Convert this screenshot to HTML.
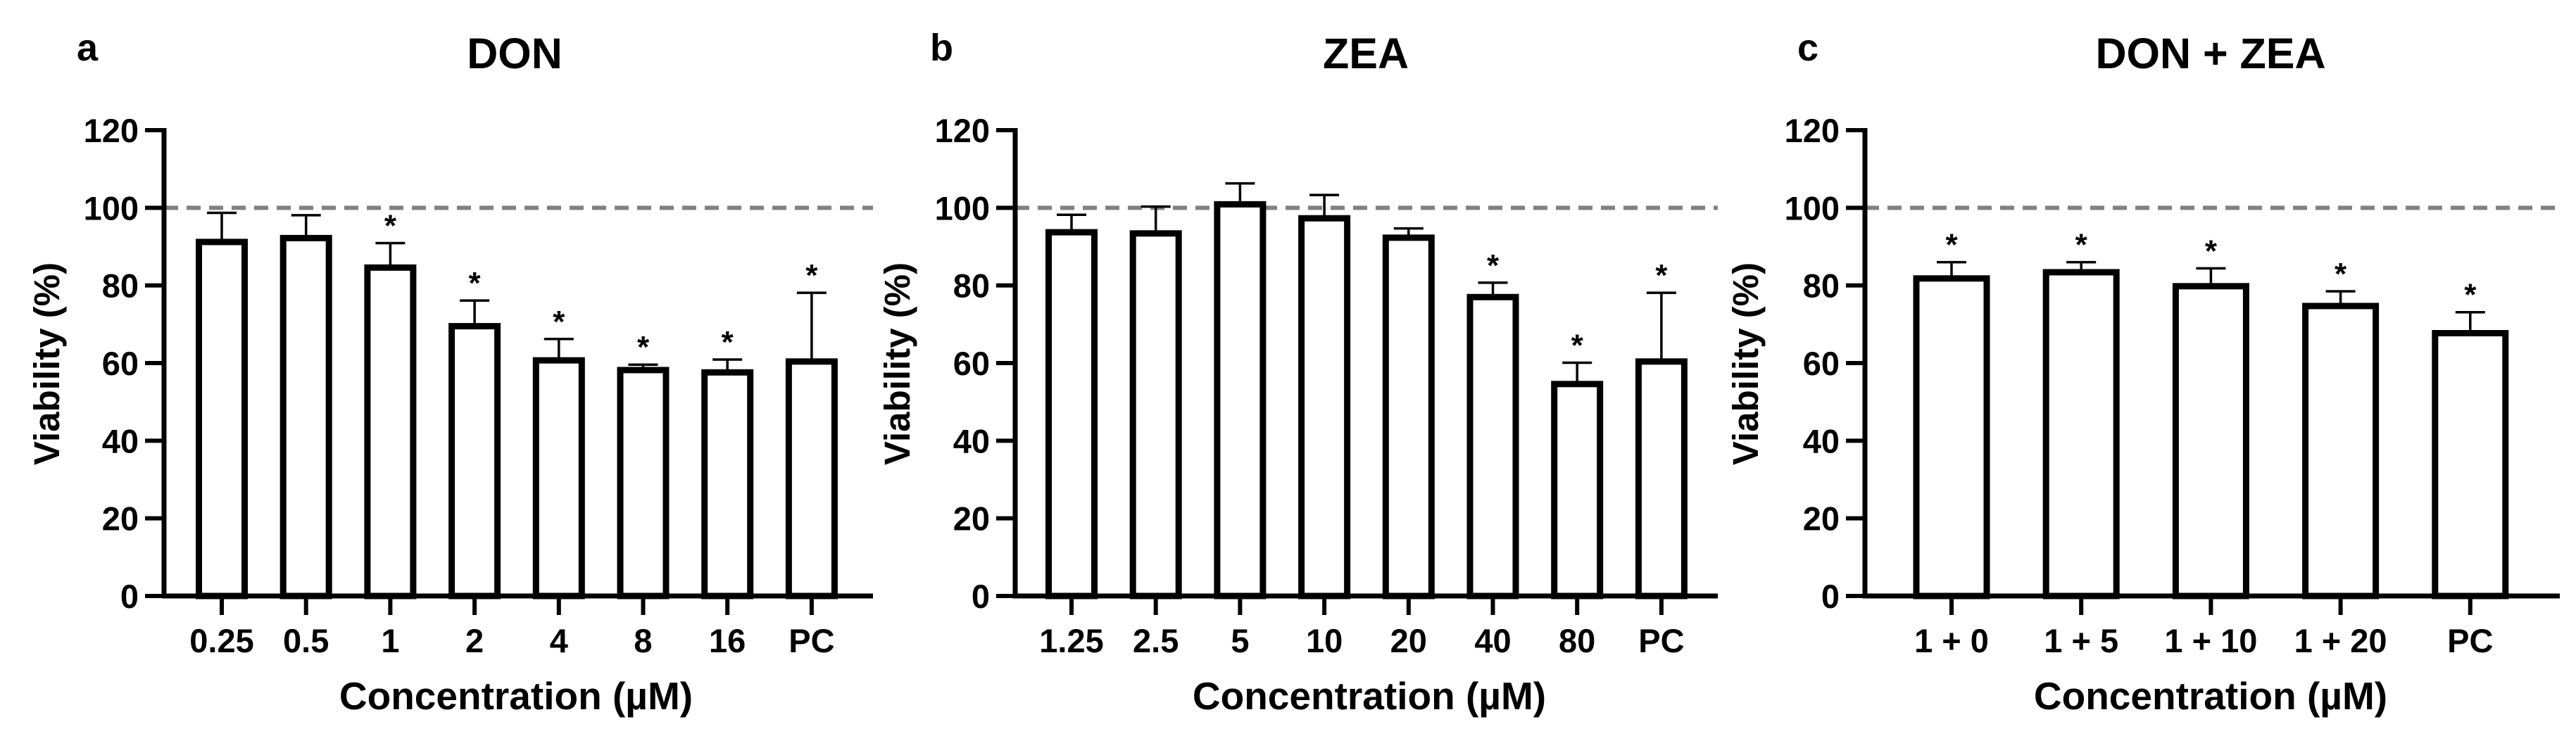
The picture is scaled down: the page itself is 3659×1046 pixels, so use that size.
<!DOCTYPE html>
<html><head><meta charset="utf-8"><style>
html,body{margin:0;padding:0;background:#fff;}
svg{display:block;font-family:"Liberation Sans",Arial,sans-serif;font-weight:bold;}
</style></head><body>
<svg id="fig" width="3659" height="1046" viewBox="0 0 3659 1046" xmlns="http://www.w3.org/2000/svg"></svg>
<script>
const catsA = ["0.25","0.5","1","2","4","8","16","PC"];
const meanA = [91.2,92.2,84.6,69.5,60.7,58.2,57.6,60.4];
const errA  = [98.7,98.1,90.9,76.1,66.2,59.6,60.9,78.1];
const starA = [0,0,1,1,1,1,1,1];
const catsB = ["1.25","2.5","5","10","20","40","80","PC"];
const meanB = [93.7,93.4,100.9,97.3,92.3,77.0,54.6,60.4];
const errB  = [98.2,100.3,106.3,103.3,94.7,80.7,60.1,78.1];
const starB = [0,0,0,0,0,1,1,1];
const catsC = ["1 + 0","1 + 5","1 + 10","1 + 20","PC"];
const meanC = [81.8,83.4,79.8,74.7,67.7];
const errC  = [86.0,86.0,84.4,78.5,73.1];
const starC = [1,1,1,1,1];
const yTicks = [0,20,40,60,80,100,120];
const refLine = 100;

const NS="http://www.w3.org/2000/svg";
const svg=document.getElementById('fig');
function mk(tag,attrs,parent){const e=document.createElementNS(NS,tag);for(const k in attrs)e.setAttribute(k,attrs[k]);(parent||svg).appendChild(e);return e;}
const Y0=847, Y120=185;
function y(v){return Y0-(v/120)*(Y0-Y120);}

function panel(cfg){
  const g=mk('g',{});
  
  
  const n=cfg.cats.length;
  function x(i){return cfg.first+i*cfg.step;}
  // letter
  const L=mk('text',{x:cfg.letterX,y:86,'font-size':54},g);L.textContent=cfg.letter;
  
  const T=mk('text',{x:cfg.titleX,y:97,'font-size':61,'text-anchor':'middle'},g);T.textContent=cfg.title;
  
  // ref line
  const rl=mk('line',{x1:cfg.ax,x2:cfg.end,y1:y(refLine),y2:y(refLine),stroke:'#808080','stroke-width':6,'stroke-dasharray':'20 12'},g);
  
  // bars
  for(let i=0;i<n;i++){
    const cx=x(i),w=cfg.bw;
    const eb=mk('line',{x1:cx,x2:cx,y1:y(cfg.mean[i]),y2:y(cfg.err[i]),stroke:'#000','stroke-width':3.5},g);
    
    const cap=mk('line',{x1:cx-21,x2:cx+21,y1:y(cfg.err[i]),y2:y(cfg.err[i]),stroke:'#000','stroke-width':3.5},g);
    
    const r=mk('rect',{x:cx-w/2+4.5,y:y(cfg.mean[i]),width:w-9,height:y(0)-y(cfg.mean[i]),fill:'#fff',stroke:'#000','stroke-width':9},g);
    
    
    if(cfg.star[i]){
      const s=mk('text',{x:cx,y:y(cfg.err[i])-10,'font-size':44,'text-anchor':'middle'},g);s.textContent='*';
      
    }
    const tk=mk('line',{x1:cx,x2:cx,y1:y(0),y2:y(0)+27,stroke:'#000','stroke-width':6},g);
    
    const tl=mk('text',{x:cx,y:927,'font-size':47,'text-anchor':'middle'},g);tl.textContent=cfg.cats[i];
    
  }
  // axes
  const ya=mk('line',{x1:cfg.ax,x2:cfg.ax,y1:y(120)-3,y2:y(0)+3,stroke:'#000','stroke-width':7},g);
  
  const xa=mk('line',{x1:cfg.ax-3,x2:cfg.end,y1:y(0),y2:y(0),stroke:'#000','stroke-width':7},g);
  
  yTicks.forEach(v=>{
    const t=mk('line',{x1:cfg.ax-27,x2:cfg.ax,y1:y(v),y2:y(v),stroke:'#000','stroke-width':6},g);
    
    const l=mk('text',{x:cfg.ax-36,y:y(v)+17,'font-size':47,'text-anchor':'end'},g);l.textContent=v;
    
  });
  const xt=mk('text',{x:cfg.xTitleX,y:1008,'font-size':55,'text-anchor':'middle'},g);xt.textContent='Concentration (µM)';
  
  const yt=mk('text',{x:0,y:0,'font-size':51,'text-anchor':'middle',transform:`translate(${cfg.yTitleX+18},517) rotate(-90)`},g);yt.textContent='Viability (%)';
  
}
panel({letter:'a',letterX:109,title:'DON',titleX:731,cats:catsA,mean:meanA,err:errA,star:starA,ax:233,end:1240,first:315,step:119.7,bw:74,xTitleX:733,yTitleX:66});
panel({letter:'b',letterX:1321,title:'ZEA',titleX:1940,cats:catsB,mean:meanB,err:errB,star:starB,ax:1442,end:2440,first:1522,step:119.7,bw:74,xTitleX:1945,yTitleX:1274});
panel({letter:'c',letterX:2553,title:'DON + ZEA',titleX:3140,cats:catsC,mean:meanC,err:errC,star:starC,ax:2649,end:3636,first:2772,step:184.2,bw:109,xTitleX:3140,yTitleX:2479});
</script>
</body></html>
